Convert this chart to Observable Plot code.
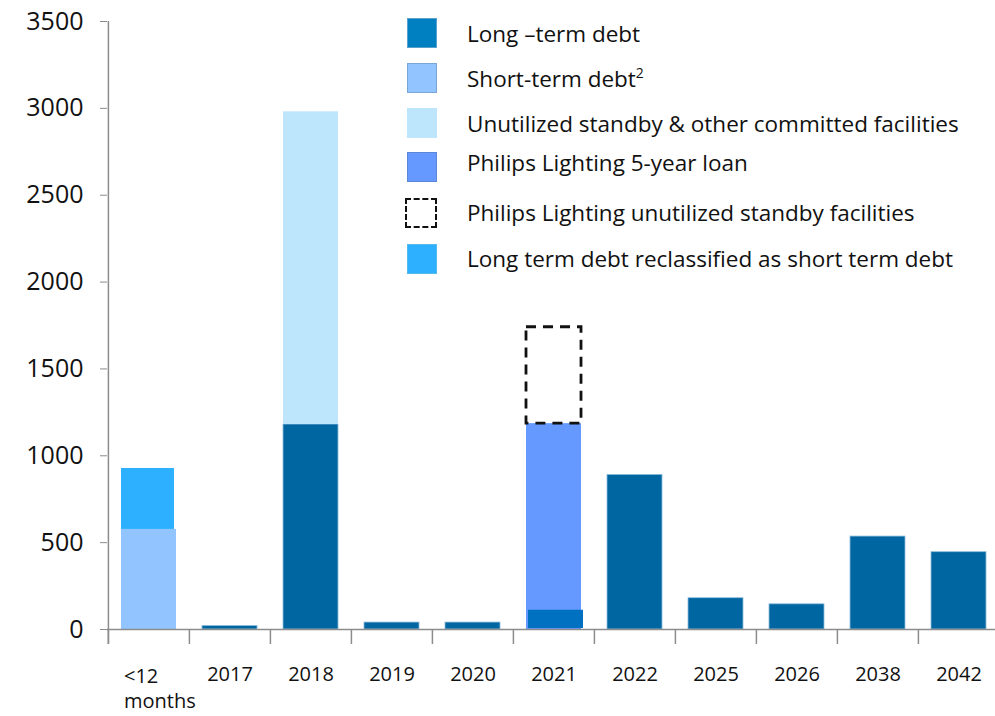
<!DOCTYPE html>
<html><head><meta charset="utf-8">
<script src="https://cdn.jsdelivr.net/npm/d3@7"></script>
<script src="https://cdn.jsdelivr.net/npm/@observablehq/plot@0.6"></script>
<style>
body{margin:0;background:#fff;font-family:"Open Sans",sans-serif}
#wrap{position:relative;width:995px;height:716px;overflow:hidden}
#legend{position:absolute;left:0;top:0}
.sw{position:absolute;left:407px;width:30px;height:30px;box-sizing:border-box}
.lab{position:absolute;left:467px;font-size:22.5px;color:#111;white-space:nowrap;line-height:1;transform:translateY(-50%)}
sup{font-size:14px;position:relative;top:-2px;vertical-align:top}
</style></head><body><div id="wrap"><div id="legend"></div></div>
<script>
const categories = ["<12 months","2017","2018","2019","2020","2021","2022","2025","2026","2038","2042"];
const xLabels = ["<12\nmonths","2017","2018","2019","2020","2021","2022","2025","2026","2038","2042"];
const longTerm          = [0, 20, 1180, 40, 40, 105, 890, 180, 145, 535, 445];
const shortTerm         = [576, 0, 0, 0, 0, 0, 0, 0, 0, 0, 0];
const reclassified      = [351, 0, 0, 0, 0, 0, 0, 0, 0, 0, 0];
const unutilizedStandby = [0, 0, 1800, 0, 0, 0, 0, 0, 0, 0, 0];
const lightingLoan      = [0, 0, 0, 0, 0, 1185, 0, 0, 0, 0, 0];
const lightingStandby   = [0, 0, 0, 0, 0, 555, 0, 0, 0, 0, 0];
const yTicks = [0, 500, 1000, 1500, 2000, 2500, 3000, 3500];
const legendLabels = [
  "Long \u2013term debt",
  "Short-term debt<sup>2</sup>",
  "Unutilized standby &amp; other committed facilities",
  "Philips Lighting 5-year loan",
  "Philips Lighting unutilized standby facilities",
  "Long term debt reclassified as short term debt"
];

const C = {
  long: "#0066A1", long2021: "#0070C0", longLegend: "#0080C0",
  short: "#92C4FF", standby: "#BDE6FD", loan: "#6699FF", reclass: "#2DB0FF"
};

const seg = (kind, arrBase, arrVal) => categories.map((c, i) => ({cat: c, kind, y1: arrBase ? arrBase[i] : 0, y2: (arrBase ? arrBase[i] : 0) + arrVal[i]})).filter(d => d.y2 > d.y1);
const shortRows = seg("short", null, shortTerm);
const reclassRows = seg("reclass", shortTerm, reclassified);
const loanRows = seg("loan", null, lightingLoan);
const longRows = seg("long", null, longTerm);
const standbyRows = seg("standby", longTerm, unutilizedStandby);
const lightStandbyRows = seg("lstandby", lightingLoan, lightingStandby);

const x0 = 107, x1 = 1000;
const step = (x1 - x0) / categories.length;
const FONT = "'Open Sans', sans-serif";

const chart = Plot.plot({
  width: 995, height: 716,
  marginLeft: 107, marginRight: 0, marginTop: 21, marginBottom: 87,
  x: {domain: categories, range: [x0, x1], paddingInner: 0.32, paddingOuter: 0.16, axis: null},
  y: {domain: [0, 3500], axis: null},
  style: {fontFamily: FONT, background: "white", overflow: "visible"},
  marks: [
    Plot.barY(shortRows, {x: "cat", y1: "y1", y2: "y2", fill: C.short}),
    Plot.barY(reclassRows, {x: "cat", y1: "y1", y2: "y2", fill: C.reclass, insetRight: 2}),
    Plot.barY(loanRows, {x: "cat", y1: "y1", y2: "y2", fill: C.loan}),
    Plot.barY(longRows.filter(d => d.cat !== "2021"), {x: "cat", y1: "y1", y2: "y2",
      fill: C.long, stroke: "#8DBBDD", strokeWidth: 0.8}),
    Plot.barY(longRows.filter(d => d.cat === "2021"), {x: "cat", y1: "y1", y2: "y2",
      fill: C.long2021, dx: 2, dy: -1}),
    Plot.barY(standbyRows, {x: "cat", y1: "y1", y2: "y2", fill: C.standby}),
    Plot.barY(lightStandbyRows, {x: "cat", y1: "y1", y2: "y2", fill: "none",
      stroke: "#111", strokeWidth: 2.8, strokeDasharray: "10,7"}),
    Plot.ruleY([0], {stroke: "#8c8c8c", strokeWidth: 1.5}),
    Plot.ruleX([categories[0]], {x: d => d, dx: -step / 2, y1: 3500, y2: 0, insetBottom: -15, stroke: "#8c8c8c", strokeWidth: 1.5}),
    Plot.ruleX(categories, {x: d => d, dx: -step / 2, y1: 0, y2: 0, insetBottom: -15, stroke: "#8c8c8c", strokeWidth: 1.5}),
    Plot.axisY({ticks: yTicks, tickSize: 7, tickPadding: 17, fontSize: 25, stroke: "#8c8c8c", fill: "#111", tickFormat: d => String(d)}),
    Plot.text(categories.slice(1), {x: d => d, y: 0, text: (d) => xLabels[categories.indexOf(d)], lineAnchor: "top", dy: 37, fontSize: 20, fill: "#111"}),
    Plot.text(categories.slice(0, 1), {x: d => d, y: 0, text: d => xLabels[0], lineAnchor: "top", textAnchor: "start", dx: -25, dy: 36, fontSize: 20, lineHeight: 1.25, fill: "#111"})
  ]
});
document.getElementById("wrap").prepend(chart);

const swStyles = [
  `background:${C.longLegend};border:1px solid #5aa0cc`,
  `background:${C.short};border:1.5px solid #7aa6d6`,
  `background:${C.standby}`,
  `background:${C.loan};border:1.5px solid #5c86d8`,
  `border:2.5px dashed #111;width:32px;left:405px`,
  `background:${C.reclass};border:1px solid #55b8ee`
];
const swTops = [18, 63, 108, 152, 198, 244];
const labCenters = [34, 79, 124, 163, 213, 259];
const lg = document.getElementById("legend");
legendLabels.forEach((t, i) => {
  const s = document.createElement("div");
  s.className = "sw"; s.style.cssText = swStyles[i]; s.style.top = swTops[i] + "px";
  lg.appendChild(s);
  const l = document.createElement("div");
  l.className = "lab"; l.innerHTML = t; l.style.top = labCenters[i] + "px";
  lg.appendChild(l);
});
</script>
</body></html>
